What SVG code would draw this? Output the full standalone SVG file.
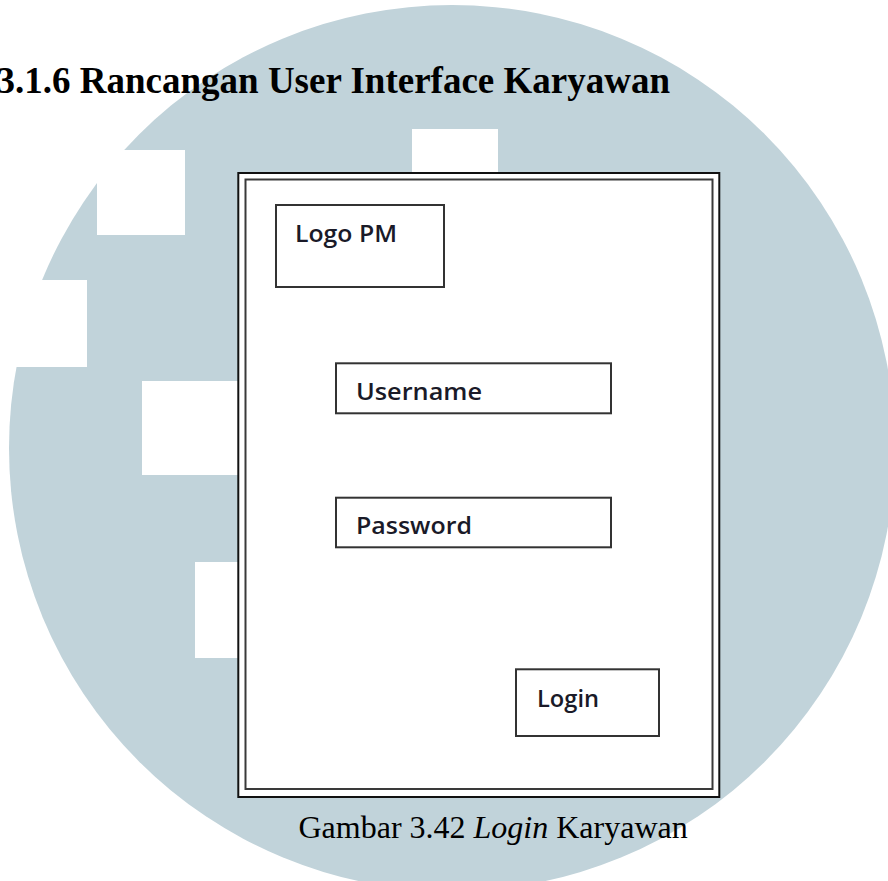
<svg xmlns="http://www.w3.org/2000/svg" width="888" height="881" viewBox="0 0 888 881">
<style>
.wm{fill:#c1d3da}
.cut{fill:#ffffff}
.box{fill:#ffffff;stroke:#333333;stroke-width:2}
.ui{font-family:"Open Sans","Noto Sans","DejaVu Sans",sans-serif;font-size:24px;font-weight:600;fill:#1a1a28}
.serif{font-family:"Liberation Serif","Times New Roman",serif;fill:#000000}
</style>
<rect x="0" y="0" width="888" height="881" fill="#ffffff"/>
<g id="watermark">
<circle class="wm" cx="452" cy="448" r="443"/>
<rect class="cut" x="97" y="150" width="88" height="85"/>
<rect class="cut" x="0" y="280" width="87" height="87"/>
<rect class="cut" x="142" y="381" width="96" height="94"/>
<rect class="cut" x="195" y="562" width="43" height="96"/>
<rect class="cut" x="412" y="129" width="86" height="45"/>
</g>
<text class="serif" x="670" y="93" font-size="37" font-weight="bold" text-anchor="end">3.1.6 Rancangan User Interface Karyawan</text>
<g id="frame">
<rect x="238.3" y="173" width="481" height="624" fill="#ffffff" stroke="#111111" stroke-width="2"/>
<rect x="245.5" y="179.5" width="467" height="609.5" fill="none" stroke="#3a3a3a" stroke-width="2"/>
</g>
<g id="connectors"/>
<g id="logo">
<rect class="box" x="276" y="205" width="168" height="82"/>
<text class="ui" x="295" y="242" textLength="102" lengthAdjust="spacingAndGlyphs">Logo PM</text>
</g>
<g id="username">
<rect class="box" x="336" y="363.3" width="275" height="50"/>
<text class="ui" x="356" y="400" textLength="126" lengthAdjust="spacingAndGlyphs">Username</text>
</g>
<g id="password">
<rect class="box" x="336" y="497.7" width="275" height="49.6"/>
<text class="ui" x="356" y="534.3" textLength="116" lengthAdjust="spacingAndGlyphs">Password</text>
</g>
<g id="login">
<rect class="box" x="516" y="669.3" width="143" height="66.7"/>
<text class="ui" x="537" y="706.7" textLength="62" lengthAdjust="spacingAndGlyphs">Login</text>
</g>
<text class="serif" x="298.5" y="837.5" font-size="32">Gambar 3.42 <tspan font-style="italic">Login</tspan> Karyawan</text>
</svg>
